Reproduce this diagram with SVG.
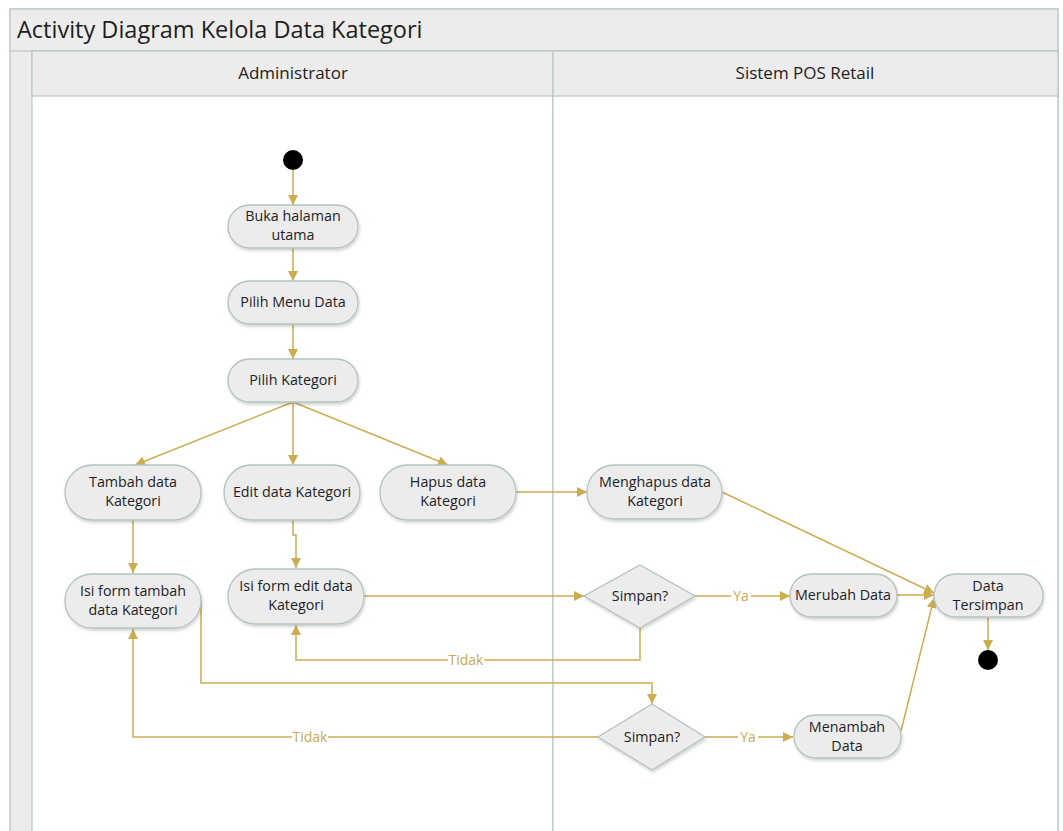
<svg xmlns="http://www.w3.org/2000/svg" width="1063" height="831" viewBox="0 0 1063 831">
<style>
.frame{fill:#ececec;stroke:#b8c7c2;stroke-width:1.2}
.lane{fill:#ffffff;stroke:#b8c7c2;stroke-width:1.2}
.node{fill:#ececec;stroke:#b3c3bd;stroke-width:1.3;filter:url(#sh)}
.t{font-family:"Open Sans","Noto Sans",sans-serif;font-size:14.3px;fill:#1e1e28;text-anchor:middle}
.h{font-family:"Open Sans","Noto Sans",sans-serif;font-size:17px;fill:#222;text-anchor:middle}
.title{font-family:"Open Sans","Noto Sans",sans-serif;font-size:23.5px;fill:#1e1e1e}
.c{fill:none;stroke:#cbad52;stroke-width:1.5}
.lbl{font-family:"Open Sans","Noto Sans",sans-serif;font-size:14px;fill:#c8aa50;text-anchor:middle}
.lblbg{fill:#ffffff}
</style>
<defs>
<marker id="a" viewBox="0 0 10 10" refX="10" refY="5" markerWidth="10" markerHeight="10" markerUnits="userSpaceOnUse" orient="auto">
<path d="M0,0 L10,5 L0,10 z" fill="#cbad52"/>
</marker>
<filter id="sh" x="-20%" y="-20%" width="140%" height="150%">
<feDropShadow dx="1" dy="2" stdDeviation="1.5" flood-color="#000" flood-opacity="0.18"/>
</filter>
</defs>
<rect width="1063" height="831" fill="#ffffff"/>
<g id="frame">
<rect class="frame" x="10" y="9" width="1048" height="830"/>
<rect class="frame" x="10" y="9" width="1048" height="42"/>
<text class="title" x="17" y="38">Activity Diagram Kelola Data Kategori</text>
<rect class="lane" x="32" y="51" width="521" height="790"/>
<rect class="lane" x="553" y="51" width="505" height="790"/>
<rect class="frame" x="32" y="51" width="521" height="45"/>
<rect class="frame" x="553" y="51" width="505" height="45"/>
<text class="h" x="293" y="79">Administrator</text>
<text class="h" x="805" y="79">Sistem POS Retail</text>
</g>
<g id="connectors">
<line class="c" x1="293" y1="170" x2="293" y2="205" marker-end="url(#a)"/>
<line class="c" x1="293" y1="248" x2="293" y2="281" marker-end="url(#a)"/>
<line class="c" x1="293" y1="324" x2="293" y2="359" marker-end="url(#a)"/>
<line class="c" x1="293" y1="402" x2="135" y2="465" marker-end="url(#a)"/>
<line class="c" x1="293" y1="402" x2="293" y2="465" marker-end="url(#a)"/>
<line class="c" x1="293" y1="402" x2="448" y2="465" marker-end="url(#a)"/>
<line class="c" x1="133" y1="520" x2="133" y2="573" marker-end="url(#a)"/>
<polyline class="c" points="293,520 293,535 296,535 296,568" marker-end="url(#a)"/>
<line class="c" x1="516" y1="492" x2="587" y2="492" marker-end="url(#a)"/>
<line class="c" x1="364" y1="596" x2="584" y2="596" marker-end="url(#a)"/>
<line class="c" x1="695" y1="596" x2="790" y2="596" marker-end="url(#a)"/>
<polyline class="c" points="640,628 640,660 296,660 296,625" marker-end="url(#a)"/>
<polyline class="c" points="201,601 201,683 652,683 652,704" marker-end="url(#a)"/>
<polyline class="c" points="598,737 133,737 133,629" marker-end="url(#a)"/>
<line class="c" x1="705" y1="737" x2="793" y2="737" marker-end="url(#a)"/>
<line class="c" x1="722" y1="492" x2="934" y2="593" marker-end="url(#a)"/>
<line class="c" x1="897" y1="595" x2="934" y2="595" marker-end="url(#a)"/>
<line class="c" x1="901" y1="731" x2="934" y2="598" marker-end="url(#a)"/>
<line class="c" x1="988" y1="617" x2="988" y2="650" marker-end="url(#a)"/>
<rect class="lblbg" x="731" y="587" width="20" height="18"/>
<text class="lbl" x="741" y="601">Ya</text>
<rect class="lblbg" x="448" y="651" width="36" height="18"/>
<text class="lbl" x="466" y="665">Tidak</text>
<rect class="lblbg" x="292" y="728" width="36" height="18"/>
<text class="lbl" x="310" y="742">Tidak</text>
<rect class="lblbg" x="738" y="728" width="20" height="18"/>
<text class="lbl" x="748" y="742">Ya</text>
</g>
<g id="start"><circle cx="293" cy="160" r="10" fill="#000"/></g>
<g id="buka"><rect class="node" x="228" y="205" width="130" height="43" rx="21.5"/><text class="t" x="293" y="221">Buka halaman</text><text class="t" x="293" y="240">utama</text></g>
<g id="menu"><rect class="node" x="228" y="281" width="130" height="43" rx="21.5"/><text class="t" x="293" y="307">Pilih Menu Data</text></g>
<g id="kategori"><rect class="node" x="228" y="359" width="130" height="43" rx="21.5"/><text class="t" x="293" y="385">Pilih Kategori</text></g>
<g id="tambah"><rect class="node" x="65" y="465" width="136" height="55" rx="27.5"/><text class="t" x="133" y="487">Tambah data</text><text class="t" x="133" y="506">Kategori</text></g>
<g id="edit"><rect class="node" x="224" y="465" width="136" height="55" rx="27.5"/><text class="t" x="292" y="497">Edit data Kategori</text></g>
<g id="hapus"><rect class="node" x="380" y="465" width="136" height="55" rx="27.5"/><text class="t" x="448" y="487">Hapus data</text><text class="t" x="448" y="506">Kategori</text></g>
<g id="isitambah"><rect class="node" x="65" y="574" width="136" height="54" rx="27"/><text class="t" x="133" y="596">Isi form tambah</text><text class="t" x="133" y="615">data Kategori</text></g>
<g id="isiedit"><rect class="node" x="228" y="569" width="136" height="55" rx="27.5"/><text class="t" x="296" y="591">Isi form edit data</text><text class="t" x="296" y="610">Kategori</text></g>
<g id="menghapus"><rect class="node" x="587" y="465" width="135" height="54" rx="27"/><text class="t" x="655" y="487">Menghapus data</text><text class="t" x="655" y="506">Kategori</text></g>
<g id="simpan1"><polygon class="node" points="640,565 695,596 640,628 584,596"/><text class="t" x="640" y="601">Simpan?</text></g>
<g id="merubah"><rect class="node" x="790" y="574" width="107" height="43" rx="21.5"/><text class="t" x="843" y="600">Merubah Data</text></g>
<g id="tersimpan"><rect class="node" x="934" y="574" width="109" height="43" rx="21.5"/><text class="t" x="988" y="591">Data</text><text class="t" x="988" y="610">Tersimpan</text></g>
<g id="end"><circle cx="988" cy="660" r="10" fill="#000"/></g>
<g id="simpan2"><polygon class="node" points="652,704 705,737 652,770 598,737"/><text class="t" x="652" y="742">Simpan?</text></g>
<g id="menambah"><rect class="node" x="794" y="715" width="107" height="43" rx="21.5"/><text class="t" x="847" y="732">Menambah</text><text class="t" x="847" y="751">Data</text></g>
</svg>
